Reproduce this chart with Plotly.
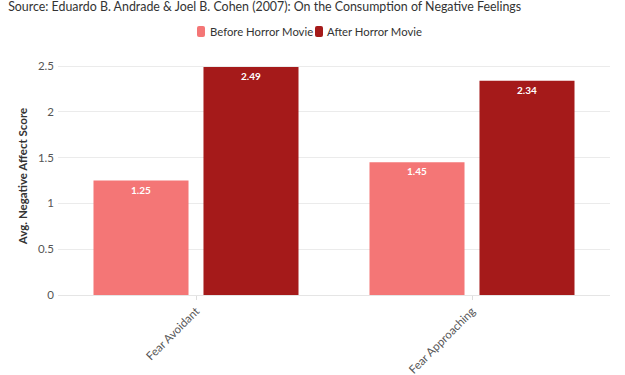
import plotly.graph_objects as go

categories = ["Fear Avoidant", "Fear Approaching"]
before_values = [1.25, 1.45]
after_values = [2.49, 2.34]
series_names = ["Before Horror Movie", "After Horror Movie"]
colors = ["#F47676", "#A51A1A"]

fig = go.Figure()
for name, vals, col in zip(series_names, [before_values, after_values], colors):
    fig.add_trace(go.Bar(
        x=categories, y=vals, name=name, showlegend=False,
        marker=dict(color=col, line=dict(width=0)),
        text=[f"{v:.2f}" for v in vals],
        textposition="inside", insidetextanchor="end",
        textfont=dict(color="white", size=10, family="Lato", weight="bold"),
        hoverinfo="skip",
    ))

# manual legend (pixel layout -> paper coords)
L, R, T, B, W, H = 58, 15, 57, 80, 625, 375
pw, ph = W - L - R, H - T - B
def px(x): return (x - L) / pw
def py(y): return (H - B - y) / ph

def rounded_rect(x0, y0, x1, y1, r):
    pts = [("M", x0 + r, y0), ("L", x1 - r, y0), ("Q", x1, y0, x1, y0 + r),
           ("L", x1, y1 - r), ("Q", x1, y1, x1 - r, y1), ("L", x0 + r, y1),
           ("Q", x0, y1, x0, y1 - r), ("L", x0, y0 + r), ("Q", x0, y0, x0 + r, y0)]
    seq = []
    for p in pts:
        if p[0] == "Q":
            seq.append(f"Q {px(p[1])} {py(p[2])} {px(p[3])} {py(p[4])}")
        else:
            seq.append(f"{p[0]} {px(p[1])} {py(p[2])}")
    return " ".join(seq) + " Z"

legend_items = [(197, 208), (315, 325)]
shapes = []
annotations = []
for (sx, tx), name, col in zip(legend_items, series_names, colors):
    shapes.append(dict(type="path", xref="paper", yref="paper",
                       path=rounded_rect(sx, 26, sx + 8, 37, 2),
                       fillcolor=col, line=dict(width=0)))
    annotations.append(dict(text=name, xref="paper", yref="paper", x=px(tx), y=py(31.5),
                            xanchor="left", yanchor="middle", showarrow=False,
                            font=dict(size=11.3, color="#333", family="Lato")))

fig.update_layout(
    width=W, height=H, autosize=False,
    font=dict(family="Lato", color="#444"),
    paper_bgcolor="white", plot_bgcolor="white",
    title=dict(text="Source: Eduardo B. Andrade & Joel B. Cohen (2007): On the Consumption of Negative Feelings",
               x=0.013, xanchor="left", xref="container", yref="container",
               y=0.983, yanchor="middle", pad=dict(t=0, b=0, l=0, r=0),
               font=dict(size=12.4, color="#333")),
    showlegend=False,
    shapes=shapes, annotations=annotations,
    margin=dict(l=L, r=R, t=T, b=B, autoexpand=False),
    barmode="group", bargap=0.203, bargroupgap=0.136,
    xaxis=dict(tickangle=-45, tickfont=dict(size=11.5, color="#555"),
               showgrid=False, ticks="outside", ticklen=4, tickcolor="#ddd",
               linecolor="#e5e5e5", showline=True),
    yaxis=dict(range=[0, 2.6], dtick=0.5, gridcolor="#ebebeb", zeroline=False,
               tickfont=dict(size=11.5, color="#555"), ticklabelstandoff=3,
               title=dict(text="Avg. Negative Affect Score", font=dict(size=11.5, color="#333", weight="bold"), standoff=7)),
)
fig.write_html("out.html", config={"displayModeBar": False},
               post_script="document.body.style.margin='0';document.body.style.overflow='hidden';")
